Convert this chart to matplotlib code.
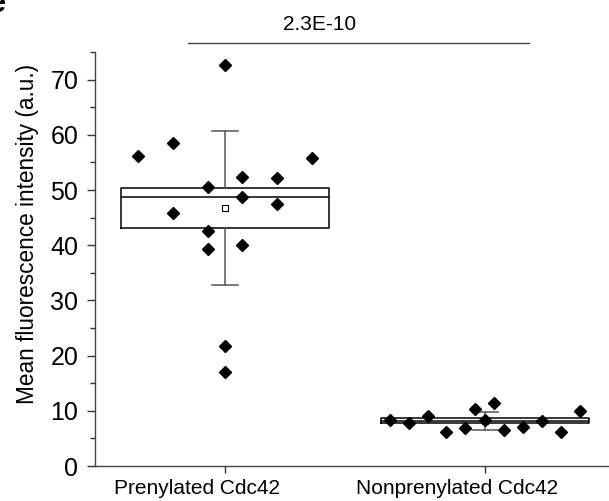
import matplotlib
matplotlib.use("Agg")
from matplotlib import pyplot as plt
from matplotlib.transforms import ScaledTranslation
import numpy as np

plt.rcParams['font.family'] = ['Liberation Sans', 'DejaVu Sans']

categories = ['Prenylated Cdc42', 'Nonprenylated Cdc42']

# individual cells
prenylated = [72.6, 58.6, 56.1, 55.8, 52.3, 52.1, 50.5, 48.8, 47.4, 45.9,
              42.6, 39.4, 40.0, 21.7, 17.1]
prenylated_jitter = [0.0, -0.2, -0.335, 0.335, 0.067, 0.2, -0.067, 0.067,
                     0.2, -0.2, -0.067, -0.067, 0.067, 0.0, 0.0]

nonprenylated = [8.35, 7.7, 9.07, 6.1, 6.95, 10.3, 8.35, 11.4, 6.5, 7.1,
                 8.2, 6.2, 10.0]
nonprenylated_jitter = [-0.365, -0.294, -0.221, -0.15, -0.077, -0.038, 0.0,
                        0.036, 0.072, 0.145, 0.218, 0.292, 0.367]

# box statistics as drawn (box = quartiles, whiskers = mean +/- SD)
q1 = [43.2, 7.74]
median = [48.8, 8.2]
q3 = [50.4, 8.65]
whisker_low = [32.8, 6.5]
whisker_high = [60.6, 9.8]

p_value = '2.3E-10'

fig = plt.figure(figsize=(6.09, 5.01), dpi=100)
ax = fig.add_axes([95 / 609, 35 / 501, 520 / 609, 414 / 501])

positions = np.arange(1, len(categories) + 1)
groups = [prenylated, nonprenylated]
jitters = [prenylated_jitter, nonprenylated_jitter]

stats = []
for i, vals in enumerate(groups):
    stats.append(dict(med=median[i], q1=q1[i], q3=q3[i],
                      whislo=whisker_low[i], whishi=whisker_high[i],
                      mean=np.mean(vals), fliers=[]))

ax.bxp(stats, positions=positions, widths=0.8, capwidths=0.1,
       showmeans=True, showfliers=False,
       boxprops=dict(color='black', linewidth=1.1),
       medianprops=dict(color='black', linewidth=1.1),
       whiskerprops=dict(color='#555555', linewidth=1.1),
       capprops=dict(color='#555555', linewidth=1.1),
       meanprops=dict(marker='s', markerfacecolor='white',
                      markeredgecolor='black', markersize=4,
                      markeredgewidth=0.8))

for pos, vals, jit in zip(positions, groups, jitters):
    ax.plot(pos + np.array(jit), vals, linestyle='none', marker='D',
            markersize=6.2, color='black', zorder=5)

ax.set_xlim(0.5, 2.5)
ax.set_ylim(0, 75)
ax.set_xticks(positions)
ax.set_xticklabels(categories, fontsize=15)
ax.set_yticks(np.arange(0, 71, 10))
ax.set_yticks(np.arange(5, 76, 10), minor=True)
ax.tick_params(axis='y', labelsize=18, length=6, width=1, colors='#333333',
               labelcolor='black', pad=6)
ax.tick_params(axis='y', which='minor', length=3.5, width=1, colors='#333333')
ax.tick_params(axis='x', length=5, width=1, colors='#333333',
               labelcolor='black', pad=4)

# labels sit a bit to the left of their ticks
shift = ScaledTranslation(-28 / 100, 0, fig.dpi_scale_trans)
for lbl in ax.get_xticklabels():
    lbl.set_transform(lbl.get_transform() + shift)

for side in ['top', 'right']:
    ax.spines[side].set_visible(False)
for side in ['left', 'bottom']:
    ax.spines[side].set_color('#444444')
    ax.spines[side].set_linewidth(1)

fig.text(28 / 609, 1 - 234 / 501, 'Mean fluorescence intensity (a.u.)',
         rotation=90, ha='center', va='center', fontsize=16.3)

# significance bar
ax.plot([0.858, 2.169], [76.6, 76.6], color='#444444', linewidth=1,
        clip_on=False)
ax.text(1.365, 78.9, p_value, ha='center', va='baseline', fontsize=15,
        clip_on=False)

# panel letter, cut off at the corner as in the source figure
fig.text(6 / 609, 1 - 4 / 501, 'e', ha='right', va='center',
         fontsize=22, fontweight='bold')

fig.savefig('out.png', dpi=100)
